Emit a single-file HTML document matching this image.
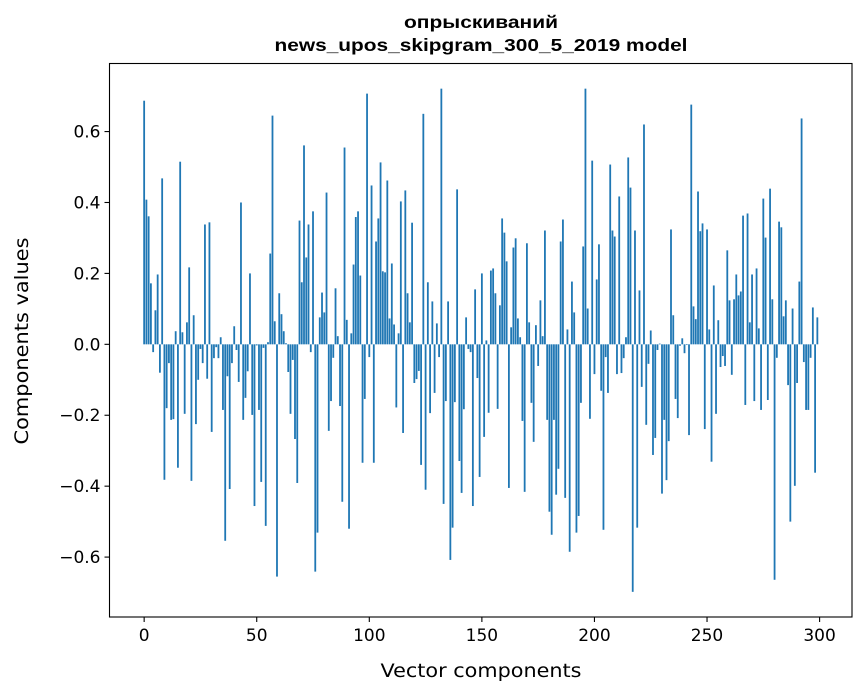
<!DOCTYPE html>
<html><head><meta charset="utf-8"><style>
html,body{margin:0;padding:0;background:#fff;}
svg{display:block;}
text{font-family:"DejaVu Sans","Liberation Sans",sans-serif;fill:#000;}
.title{font-family:"Liberation Sans","DejaVu Sans",sans-serif;font-weight:bold;font-size:17.5px;}
</style></head><body>
<svg id="chart" width="867" height="696" viewBox="0 0 867 696" xmlns="http://www.w3.org/2000/svg">
<rect x="0" y="0" width="867" height="696" fill="#fff"/>
<text class="title" x="481" y="28" text-anchor="middle" textLength="154" lengthAdjust="spacingAndGlyphs">опрыскиваний</text>
<text class="title" x="481" y="51" text-anchor="middle" textLength="413" lengthAdjust="spacingAndGlyphs">news_upos_skipgram_300_5_2019 model</text>
<g id="bars"></g>
<g id="axes"></g>
<text x="481" y="677" text-anchor="middle" font-size="19" textLength="201" lengthAdjust="spacingAndGlyphs">Vector components</text>
<text transform="translate(28,341) rotate(-90)" text-anchor="middle" font-size="19" textLength="207" lengthAdjust="spacingAndGlyphs">Components values</text>
</svg>
<script>
const values = [
0.687,0.408,0.361,0.172,-0.022,0.096,0.197,-0.08,0.468,-0.382,
-0.18,-0.053,-0.213,-0.211,0.037,-0.348,0.515,0.034,-0.196,0.062,
0.217,-0.385,0.082,-0.225,-0.1,-0.013,-0.053,0.338,-0.097,0.344,
-0.247,-0.039,-0.008,-0.039,0.02,-0.185,-0.554,-0.09,-0.408,-0.053,
0.051,-0.016,-0.106,0.4,-0.213,-0.151,-0.076,0.2,-0.199,-0.456,
-0.003,-0.185,-0.388,-0.01,-0.512,0.006,0.256,0.645,0.065,-0.655,
0.144,0.085,0.037,0.003,-0.078,-0.196,-0.044,-0.267,-0.391,0.349,
0.175,0.561,0.245,0.338,-0.022,0.375,-0.641,-0.531,0.076,0.146,
0.09,0.428,-0.244,-0.16,-0.038,0.158,0.023,-0.174,-0.444,0.555,
0.069,-0.52,0.031,0.225,0.359,0.375,0.194,-0.334,-0.154,0.707,
-0.036,0.448,-0.334,0.29,0.355,0.513,0.206,0.203,0.462,0.073,
0.228,0.056,-0.178,0.031,0.403,-0.25,0.434,0.144,0.062,0.343,
-0.109,-0.098,-0.075,-0.34,0.65,-0.41,0.175,-0.194,0.121,-0.137,
0.059,-0.036,0.721,-0.45,-0.16,0.121,-0.608,-0.517,-0.163,0.437,
-0.329,-0.419,-0.183,0.076,-0.013,-0.022,-0.456,0.155,-0.095,-0.374,
0.2,-0.261,0.011,-0.193,0.208,0.214,0.144,-0.182,0.11,0.355,
0.315,0.234,-0.405,0.048,0.273,0.299,0.073,0.02,-0.216,-0.416,
0.285,0.062,-0.165,-0.275,0.054,-0.061,0.124,0.023,0.321,-0.213,
-0.472,-0.537,-0.213,-0.424,-0.351,0.29,0.352,-0.433,0.042,-0.585,
0.177,0.09,-0.531,-0.484,-0.165,0.276,0.721,0.101,-0.21,0.518,
-0.084,0.183,0.282,-0.131,-0.523,-0.036,-0.137,0.507,0.321,0.304,
-0.084,0.417,-0.081,-0.039,0.02,0.527,0.442,-0.698,0.321,-0.517,
0.152,-0.12,0.62,-0.227,-0.055,0.039,-0.312,-0.264,-0.016,0.002,
-0.421,-0.213,-0.383,-0.273,0.324,0.082,-0.154,-0.208,-0.004,0.017,
-0.025,-0.002,-0.256,0.676,0.107,0.071,0.431,0.319,0.341,-0.239,
0.324,0.042,-0.331,0.166,-0.196,0.068,-0.064,-0.033,-0.061,0.265,
0.124,-0.086,0.127,0.197,0.138,0.149,0.363,-0.171,0.369,0.062,
0.197,-0.16,0.214,0.045,-0.185,0.411,0.301,-0.157,0.439,0.127,
-0.664,-0.038,0.346,0.33,0.079,0.124,-0.115,-0.5,0.101,-0.399,
-0.109,0.177,0.637,-0.05,-0.185,-0.185,-0.038,0.104,-0.362,0.076
];
const xTicks = [0,50,100,150,200,250,300];
const yTicks = [-0.6,-0.4,-0.2,0.0,0.2,0.4,0.6];
const yTickLabels = ["\u22120.6","\u22120.4","\u22120.2","0.0","0.2","0.4","0.6"];

const L=109.5,R=852,T=63.5,B=617;
const n=values.length;
const xlo=-0.4-0.05*(n-1+0.8), xhi=n-1+0.4+0.05*(n-1+0.8);
const vmin=Math.min(0,...values), vmax=Math.max(0,...values);
const ylo=vmin-0.05*(vmax-vmin), yhi=vmax+0.05*(vmax-vmin);
const xs=v=>L+(v-xlo)/(xhi-xlo)*(R-L);
const ys=v=>B-(v-ylo)/(yhi-ylo)*(B-T);
const NS="http://www.w3.org/2000/svg";
const bars=document.getElementById('bars');
values.forEach((v,i)=>{
  const r=document.createElementNS(NS,'rect');
  const x0=xs(i-0.4),x1=xs(i+0.4);
  const y0=ys(Math.max(v,0)),y1=ys(Math.min(v,0));
  r.setAttribute('x',x0);r.setAttribute('width',x1-x0);
  r.setAttribute('y',y0);r.setAttribute('height',Math.max(y1-y0,0.01));
  r.setAttribute('fill','#1f77b4');
  
  
  bars.appendChild(r);
});
const ax=document.getElementById('axes');
const frame=document.createElementNS(NS,'rect');
frame.setAttribute('x',L);frame.setAttribute('y',T);frame.setAttribute('width',R-L);frame.setAttribute('height',B-T);
frame.setAttribute('fill','none');frame.setAttribute('stroke','#000');frame.setAttribute('stroke-width','1.1');


ax.appendChild(frame);
function line(x1,y1,x2,y2){const l=document.createElementNS(NS,'line');l.setAttribute('x1',x1);l.setAttribute('y1',y1);l.setAttribute('x2',x2);l.setAttribute('y2',y2);l.setAttribute('stroke','#000');l.setAttribute('stroke-width','1.1');return l;}
xTicks.forEach(t=>{
  const x=xs(t);
  const l=line(x,B,x,B+5);
  
  
  ax.appendChild(l);
  const tx=document.createElementNS(NS,'text');
  tx.setAttribute('x',x);tx.setAttribute('y',B+24);tx.setAttribute('text-anchor','middle');tx.setAttribute('font-size','17');
  tx.textContent=String(t);
  
  
  ax.appendChild(tx);
});
yTicks.forEach((t,i)=>{
  const y=ys(t);
  const l=line(L-5,y,L,y);
  
  
  ax.appendChild(l);
  const tx=document.createElementNS(NS,'text');
  tx.setAttribute('x',L-9);tx.setAttribute('y',y+6);tx.setAttribute('text-anchor','end');tx.setAttribute('font-size','17');
  tx.textContent=yTickLabels[i];
  
  
  ax.appendChild(tx);
});
</script>
</body></html>
